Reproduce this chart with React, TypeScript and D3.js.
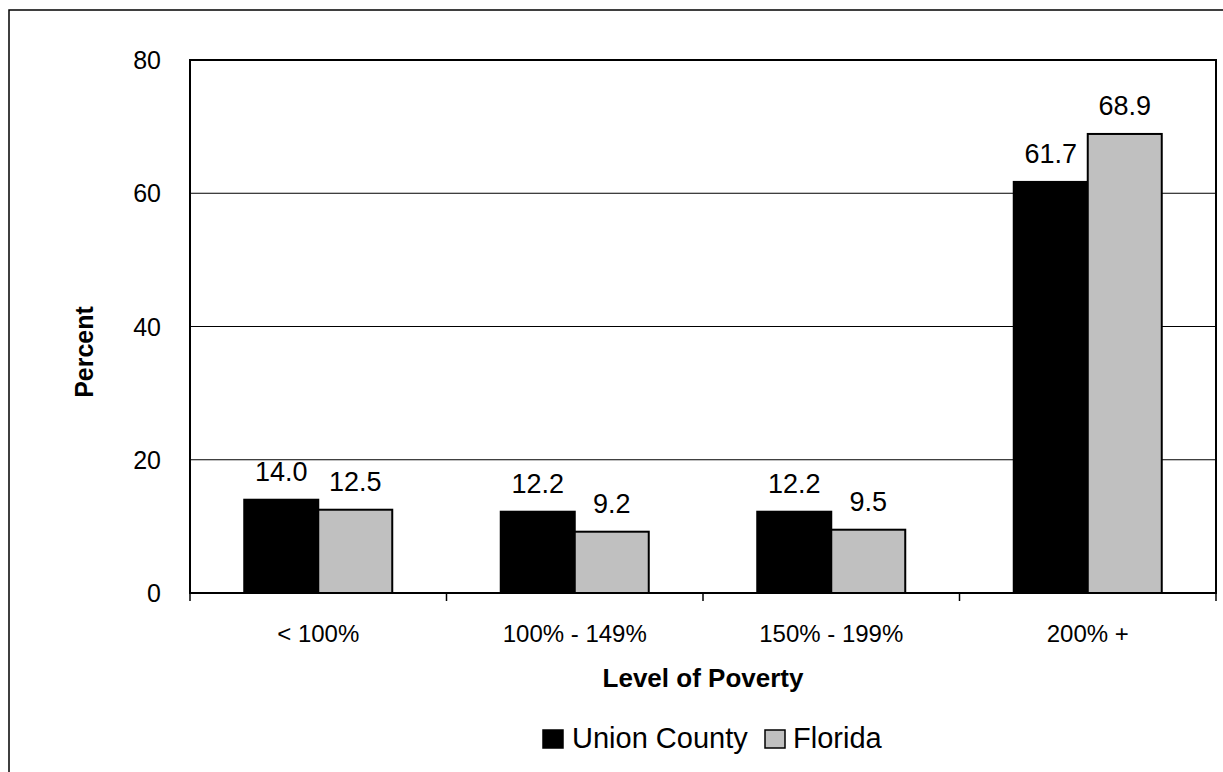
import React from "react";
import * as d3 from "d3";

const categories = ["< 100%", "100% - 149%", "150% - 199%", "200% +"];
const seriesNames = ["Union County", "Florida"];
const unionCounty = [14.0, 12.2, 12.2, 61.7];
const florida = [12.5, 9.2, 9.5, 68.9];
const yTicks = [0, 20, 40, 60, 80];
const colors = ["#000000", "#c0c0c0"];

const W = 1223;
const H = 772;
const plot = { left: 190, right: 1216, top: 60, bottom: 593 };
const FONT = "'Liberation Sans', Arial, sans-serif";

export default function App() {
  const x = d3.scaleBand<string>().domain(categories).range([plot.left, plot.right]).paddingInner(0).paddingOuter(0);
  const bw = x.bandwidth();
  const inner = d3
    .scaleBand<string>()
    .domain(seriesNames)
    .range([0, bw])
    .paddingInner(0)
    .paddingOuter((bw - 148) / 2 / 74);
  const y = d3.scaleLinear().domain([0, 80]).range([plot.bottom, plot.top]);
  const series = [unionCounty, florida];
  const tickXs = categories.map((c) => x(c)!).concat([plot.right]);

  return (
    <svg width={W} height={H} style={{ position: "absolute", left: 0, top: 0, background: "#fff" }} fontFamily={FONT}>
      <rect x={0} y={0} width={W} height={H} fill="#fff" />
      <rect x={9} y={10} width={W + 20} height={H + 20} fill="none" stroke="#000" strokeWidth={1.5} />
      {/* gridlines */}
      {yTicks.filter((t) => t > 0 && t < 80).map((t) => (
        <line key={t} x1={plot.left} x2={plot.right} y1={y(t)} y2={y(t)} stroke="#000" strokeWidth={1} />
      ))}
      {/* bars */}
      {categories.map((c, i) =>
        seriesNames.map((s, j) => {
          const v = series[j][i];
          const bx = x(c)! + inner(s)!;
          return (
            <rect key={c + s} x={bx} y={y(v)} width={inner.bandwidth()} height={y(0) - y(v)} fill={colors[j]} stroke="#000" strokeWidth={2} />
          );
        })
      )}
      {/* plot frame */}
      <rect x={plot.left} y={plot.top} width={plot.right - plot.left} height={plot.bottom - plot.top} fill="none" stroke="#000" strokeWidth={2} />
      {/* x ticks */}
      {tickXs.map((tx, i) => (
        <line key={i} x1={tx} x2={tx} y1={plot.bottom} y2={plot.bottom + 8} stroke="#000" strokeWidth={1.5} />
      ))}
      {/* y tick labels */}
      {yTicks.map((t) => (
        <text key={t} x={161} y={y(t)} dy="0.36em" textAnchor="end" fontSize={25} fill="#000">
          {t}
        </text>
      ))}
      {/* category labels */}
      {categories.map((c) => (
        <text key={c} x={x(c)! + bw / 2} y={642} textAnchor="middle" fontSize={24} fill="#000">
          {c}
        </text>
      ))}
      {/* data labels */}
      {categories.map((c, i) =>
        seriesNames.map((s, j) => {
          const v = series[j][i];
          return (
            <text key={"l" + c + s} x={x(c)! + inner(s)! + inner.bandwidth() / 2} y={y(v) - 19} textAnchor="middle" fontSize={27} fill="#000">
              {v.toFixed(1)}
            </text>
          );
        })
      )}
      {/* axis titles */}
      <text x={(plot.left + plot.right) / 2} y={687} textAnchor="middle" fontSize={26} fontWeight="bold" fill="#000">
        Level of Poverty
      </text>
      <text transform={`translate(93, 352) rotate(-90)`} textAnchor="middle" fontSize={25} fontWeight="bold" fill="#000">
        Percent
      </text>
      {/* legend */}
      <g>
        <rect x={543} y={730} width={20} height={18} fill={colors[0]} stroke="#000" strokeWidth={1.5} />
        <text x={572} y={748} fontSize={29} fill="#000">{seriesNames[0]}</text>
        <rect x={765} y={730} width={20} height={18} fill={colors[1]} stroke="#000" strokeWidth={1.5} />
        <text x={793} y={748} fontSize={29} fill="#000">{seriesNames[1]}</text>
      </g>
    </svg>
  );
}
